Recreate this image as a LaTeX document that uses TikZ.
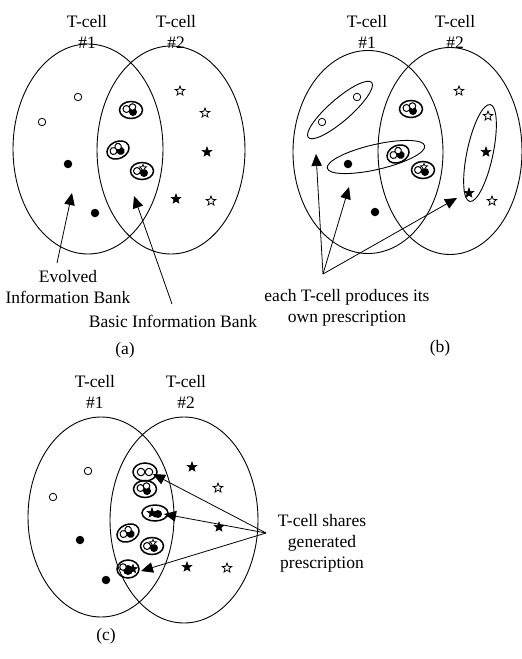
\documentclass[tikz,border=0pt]{standalone}
\usepackage{fontspec}
\setmainfont{Liberation Serif}
\usetikzlibrary{shapes.geometric,arrows.meta}
\newcommand{\labfont}{\fontsize{17.5}{21}\selectfont}
\tikzset{
  tcell/.style={ellipse, draw, line width=0.9pt, inner sep=0pt},
  grp/.style={ellipse, draw, line width=0.9pt, inner sep=0pt},
  clg/.style={ellipse, draw, line width=1.5pt, inner sep=0pt},
  hdot/.style={circle, draw, fill=white, line width=0.8pt, inner sep=0pt, minimum size=7.5pt},
  fdot/.style={circle, fill=black, inner sep=0pt, minimum size=8.5pt},
  hstr/.style={star, star points=5, star point ratio=2.4, draw, fill=white, line width=0.8pt, inner sep=0pt, minimum size=10pt},
  fstr/.style={star, star points=5, star point ratio=2.4, draw, fill=black, line width=0.6pt, inner sep=0pt, minimum size=10pt},
  lab/.style={font=\labfont, align=center, inner sep=0pt},
  arr/.style={-{Triangle[length=12pt,width=10.5pt]}, line width=0.8pt},
  pics/clH/.style={code={
    \node[clg, minimum width=23pt, minimum height=17pt] (-e) at (0,0) {};
    \node[fdot, minimum size=8pt] (-f) at (2,2) {};
    \node[hdot, minimum size=7pt, line width=1pt] (-h1) at (-4.5,-1) {};
    \node[hdot, minimum size=6.5pt, line width=1pt] (-h2) at (1.5,-3) {};
  }},
  pics/clS/.style={code={
    \node[clg, minimum width=23pt, minimum height=17pt] (-e) at (0,0) {};
    \node[fdot, minimum size=8pt] (-f) at (2,2) {};
    \node[hdot, minimum size=7pt, line width=1pt] (-h1) at (-5,0) {};
    \node[hstr, minimum size=7.5pt, line width=0.7pt] (-s) at (1,-3) {};
  }},
  pics/clHH/.style={code={
    \node[clg, minimum width=24pt, minimum height=18pt] (-e) at (0,0) {};
    \node[hdot, minimum size=7.5pt, line width=1pt] (-h1) at (-4,0) {};
    \node[hdot, minimum size=7.5pt, line width=1pt] (-h2) at (4,0) {};
  }},
  pics/clFS/.style={code={
    \node[clg, minimum width=26pt, minimum height=16pt] (-e) at (0,0) {};
    \node[fstr, minimum size=10pt] (-s) at (-3,0) {};
    \node[fdot, minimum size=8pt] (-f) at (3,1) {};
  }},
  pics/clF/.style={code={
    \node[clg, minimum width=22pt, minimum height=18pt] (-e) at (0,0) {};
    \node[fdot, minimum size=10pt] (-f) at (0,1) {};
    \node[hdot, minimum size=6.5pt, line width=1pt] (-h1) at (-5,-2) {};
    \node[fstr, minimum size=9pt] (-s) at (5,0) {};
  }},
}
\begin{document}
\begin{tikzpicture}[x=1pt, y=-1pt]
\useasboundingbox (0,0) rectangle (522,659);

% ---------------- panel (a)
\node[tcell, minimum width=150pt, minimum height=210pt] (A1) at (88,149) {};
\node[tcell, minimum width=148pt, minimum height=208pt] (A2) at (171,150) {};
\node[lab] (A1t) at (87,32) {T-cell\\\#1};
\node[lab] (A2t) at (176,32) {T-cell\\\#2};
\node[hdot] (A-o1) at (78,97) {};
\node[hdot] (A-o2) at (42,122) {};
\node[fdot] (A-f1) at (68,164) {};
\node[fdot] (A-f2) at (95,213) {};
\node[hstr] (A-s1) at (180,91) {};
\node[hstr] (A-s2) at (205,113) {};
\node[fstr] (A-s3) at (207,152) {};
\node[fstr] (A-s4) at (176,199) {};
\node[hstr] (A-s5) at (211,201) {};
\pic (A-c1) at (131,110) {clH};
\pic[rotate=25, transform shape] (A-c2) at (118,150) {clH};
\pic (A-c3) at (142,171) {clS};
\coordinate (A-evS) at (57,263);
\coordinate (A-evT) at (72,193);
\draw[arr] (A-evS) -- (A-evT);
\coordinate (A-bS) at (172,304);
\coordinate (A-bT) at (134,196);
\draw[arr] (A-bS) -- (A-bT);
\node[lab] (A-ev) at (68,287) {Evolved\\Information Bank};
\node[lab] (A-b) at (173,321) {Basic Information Bank};
\node[lab] (A-cap) at (125,350) {(a)};

% ---------------- panel (b)
\node[tcell, minimum width=150pt, minimum height=203pt] (B1) at (368,152) {};
\node[tcell, minimum width=144pt, minimum height=207pt] (B2) at (450,151) {};
\node[lab] (B1t) at (367,32) {T-cell\\\#1};
\node[lab] (B2t) at (455,32) {T-cell\\\#2};
\node[hdot] (B-o1) at (357,97) {};
\node[hdot] (B-o2) at (322,122) {};
\node[fdot] (B-f1) at (348,164) {};
\node[fdot] (B-f2) at (375,212) {};
\node[hstr] (B-s1) at (459,91) {};
\node[hstr] (B-s2) at (488,116) {};
\node[fstr] (B-s3) at (486,152) {};
\node[fstr] (B-s4) at (469,193) {};
\node[hstr] (B-s5) at (492,201) {};
\pic (B-c1) at (411,109) {clH};
\pic[rotate=25, transform shape] (B-c2) at (398,154) {clH};
\pic (B-c3) at (423,170) {clS};
\node[grp, minimum width=84pt, minimum height=22pt, rotate=41] (B-g1) at (340,110) {};
\node[grp, minimum width=100pt, minimum height=25pt, rotate=13] (B-g2) at (376,157) {};
\node[grp, minimum width=99pt, minimum height=26pt, rotate=78] (B-g3) at (480,153) {};
\coordinate (B-o) at (323,274);
\coordinate (B-t1) at (316,154);
\coordinate (B-t2) at (349,187);
\coordinate (B-t3) at (457,198);
\draw[arr] (B-o) -- (B-t1);
\draw[arr] (B-o) -- (B-t2);
\draw[arr] (B-o) -- (B-t3);
\node[lab] (B-t) at (347,308) {each T-cell produces its\\own prescription};
\node[lab] (B-cap) at (440,348) {(b)};

% ---------------- panel (c)
\node[tcell, minimum width=146pt, minimum height=200pt] (C1) at (101,517) {};
\node[tcell, minimum width=148pt, minimum height=206pt] (C2) at (184,520) {};
\node[lab] (C1t) at (95,392) {T-cell\\\#1};
\node[lab] (C2t) at (186,392) {T-cell\\\#2};
\node[hdot] (C-o1) at (88,471) {};
\node[hdot] (C-o2) at (53,497) {};
\node[fdot] (C-f1) at (80,540) {};
\node[fdot] (C-f2) at (106,580) {};
\node[fstr] (C-s1) at (192,467) {};
\node[hstr] (C-s2) at (218,488) {};
\node[fstr] (C-s3) at (219,527) {};
\node[fstr] (C-s4) at (187,567) {};
\node[hstr] (C-s5) at (227,568) {};
\pic (C-cA) at (145,472) {clHH};
\pic (C-cB) at (145,489) {clH};
\pic (C-cC) at (155,513) {clFS};
\pic[rotate=25, transform shape] (C-cD) at (128,533) {clH};
\pic (C-cE) at (152,546) {clS};
\pic (C-cF) at (128,569) {clF};
\coordinate (C-o) at (266,533);
\coordinate (C-t1) at (153,474);
\coordinate (C-t2) at (164,514);
\coordinate (C-t3) at (141,571);
\draw[arr] (C-o) -- (C-t1);
\draw[arr] (C-o) -- (C-t2);
\draw[arr] (C-o) -- (C-t3);
\node[lab] (C-t) at (322,543) {T-cell shares\\generated\\prescription};
\node[lab] (C-cap) at (106,636) {(c)};
\end{tikzpicture}
\end{document}
